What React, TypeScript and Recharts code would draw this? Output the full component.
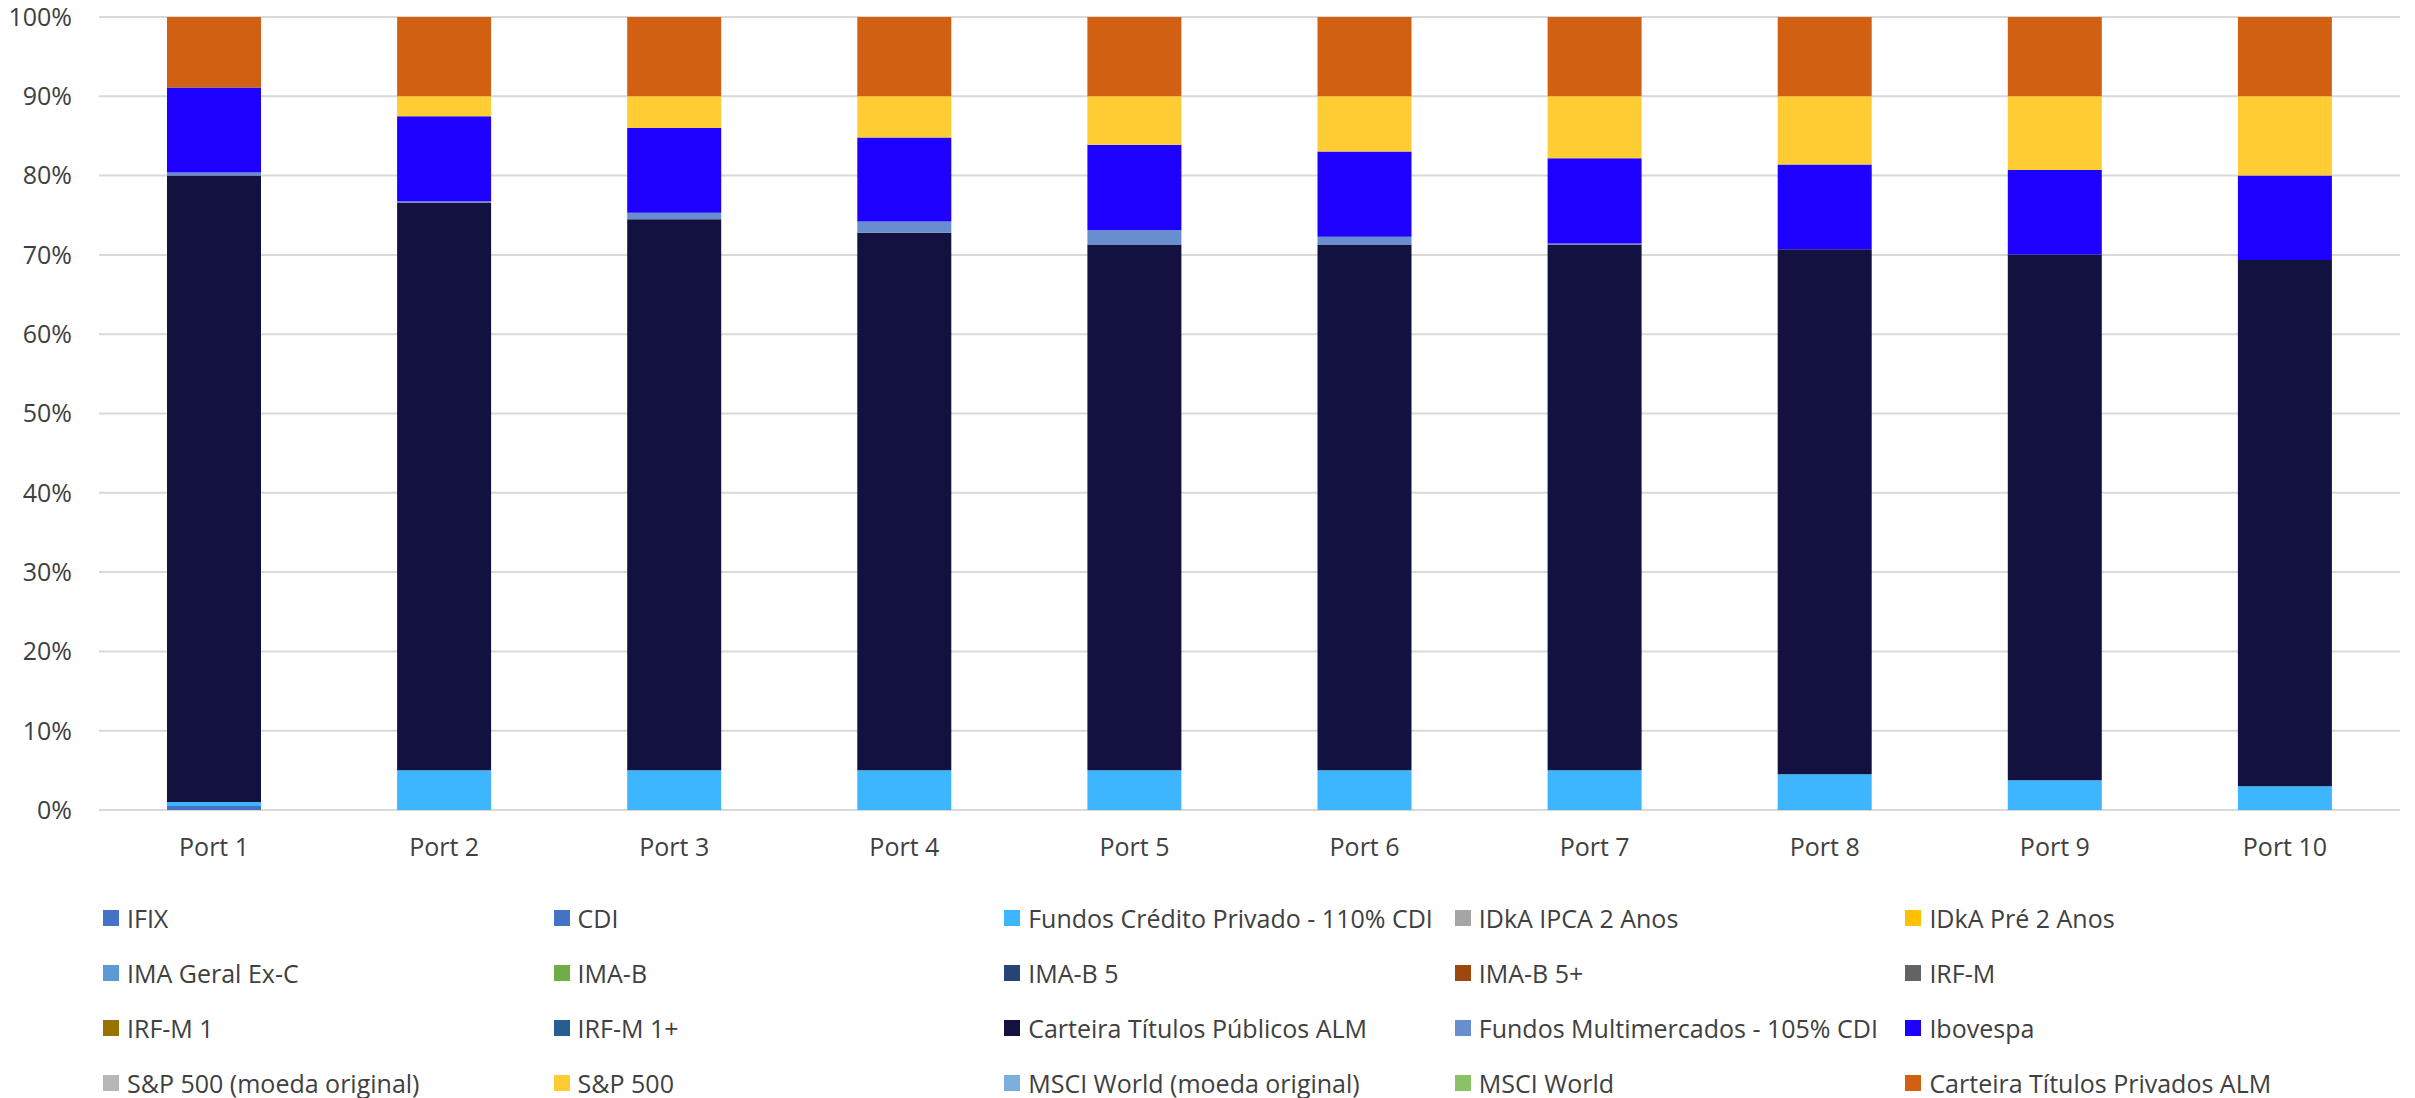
import React from 'react';
import { BarChart, Bar, XAxis, YAxis, CartesianGrid, Legend } from 'recharts';

const ports = ['Port 1', 'Port 2', 'Port 3', 'Port 4', 'Port 5', 'Port 6', 'Port 7', 'Port 8', 'Port 9', 'Port 10'];
const yTicks = [0, 10, 20, 30, 40, 50, 60, 70, 80, 90, 100];

// allocation per portfolio, in %, bottom of the stack first
const ifix = [0, 0, 0, 0, 0, 0, 0, 0, 0, 0];
const cdi = [0.5, 0, 0, 0, 0, 0, 0, 0, 0, 0];
const fundosCredito = [0.5, 5, 5, 5, 5, 5, 5, 4.5, 3.75, 3.0];
const idkaIpca = [0, 0, 0, 0, 0, 0, 0, 0, 0, 0];
const idkaPre = [0, 0, 0, 0, 0, 0, 0, 0, 0, 0];
const imaGeral = [0, 0, 0, 0, 0, 0, 0, 0, 0, 0];
const imaB = [0, 0, 0, 0, 0, 0, 0, 0, 0, 0];
const imaB5 = [0, 0, 0, 0, 0, 0, 0, 0, 0, 0];
const imaB5Plus = [0, 0, 0, 0, 0, 0, 0, 0, 0, 0];
const irfM = [0, 0, 0, 0, 0, 0, 0, 0, 0, 0];
const irfM1 = [0, 0, 0, 0, 0, 0, 0, 0, 0, 0];
const irfM1Plus = [0, 0, 0, 0, 0, 0, 0, 0, 0, 0];
const titulosPublicos = [79.0, 71.6, 69.5, 67.8, 66.3, 66.3, 66.3, 66.2, 66.3, 66.35];
const fundosMulti = [0.4, 0.15, 0.8, 1.4, 1.85, 1.0, 0.15, 0, 0, 0];
const ibovespa = [10.7, 10.75, 10.7, 10.6, 10.75, 10.75, 10.75, 10.7, 10.65, 10.65];
const spOriginal = [0, 0, 0, 0, 0, 0, 0, 0, 0, 0];
const sp500 = [0, 2.5, 4.0, 5.2, 6.1, 6.95, 7.8, 8.6, 9.3, 10];
const msciOriginal = [0, 0, 0, 0, 0, 0, 0, 0, 0, 0];
const msci = [0, 0, 0, 0, 0, 0, 0, 0, 0, 0];
const titulosPrivados = [8.9, 10, 10, 10, 10, 10, 10, 10, 10, 10];

const series = [
  { name: 'IFIX', color: '#4472C4', values: ifix },
  { name: 'CDI', color: '#4472C4', values: cdi },
  { name: 'Fundos Crédito Privado - 110% CDI', color: '#3DB5FF', values: fundosCredito },
  { name: 'IDkA IPCA 2 Anos', color: '#A5A5A5', values: idkaIpca },
  { name: 'IDkA Pré 2 Anos', color: '#FFC000', values: idkaPre },
  { name: 'IMA Geral Ex-C', color: '#5B9BD5', values: imaGeral },
  { name: 'IMA-B', color: '#70AD47', values: imaB },
  { name: 'IMA-B 5', color: '#264478', values: imaB5 },
  { name: 'IMA-B 5+', color: '#9E480E', values: imaB5Plus },
  { name: 'IRF-M', color: '#636363', values: irfM },
  { name: 'IRF-M 1', color: '#997300', values: irfM1 },
  { name: 'IRF-M 1+', color: '#255E91', values: irfM1Plus },
  { name: 'Carteira Títulos Públicos ALM', color: '#131140', values: titulosPublicos },
  { name: 'Fundos Multimercados - 105% CDI', color: '#698ED0', values: fundosMulti },
  { name: 'Ibovespa', color: '#1E00FF', values: ibovespa },
  { name: 'S&P 500 (moeda original)', color: '#B7B7B7', values: spOriginal },
  { name: 'S&P 500', color: '#FFCC33', values: sp500 },
  { name: 'MSCI World (moeda original)', color: '#7CAFDD', values: msciOriginal },
  { name: 'MSCI World', color: '#8CC168', values: msci },
  { name: 'Carteira Títulos Privados ALM', color: '#D26012', values: titulosPrivados },
];

const data = ports.map((port, i) => {
  const row: Record<string, string | number> = { port };
  series.forEach((s, j) => {
    row['s' + j] = s.values[i];
  });
  return row;
});

const textColor = '#404040';
const font = '"Open Sans", sans-serif';
const fontSize = 25;

const renderLegend = () => (
  <div style={{ display: 'flex', flexWrap: 'wrap', paddingLeft: 103, width: 2415, boxSizing: 'border-box' }}>
    {series.map((s) => (
      <div key={s.name} style={{ width: 450.6, height: 55, display: 'flex', alignItems: 'center' }}>
        <span style={{ width: 16, height: 16, background: s.color, marginRight: 8, flexShrink: 0 }} />
        <span style={{ fontSize, color: textColor, fontFamily: font, whiteSpace: 'nowrap' }}>{s.name}</span>
      </div>
    ))}
  </div>
);

export default function App() {
  return (
    <div style={{ position: 'absolute', left: 0, top: 0, background: '#fff', fontFamily: font }}>
      <BarChart width={2415} height={1098} data={data} margin={{ top: 17, right: 15, left: 0, bottom: 228 }}>
        <CartesianGrid vertical={false} stroke="#D9D9D9" strokeWidth={2} />
        <XAxis
          dataKey="port"
          height={60}
          interval={0}
          axisLine={false}
          tickLine={false}
          tickSize={0}
          tickMargin={28}
          tick={{ fontSize, fill: textColor, fontFamily: font }}
        />
        <YAxis
          width={99}
          domain={[0, 100]}
          ticks={yTicks}
          axisLine={false}
          tickLine={false}
          tickSize={0}
          tickMargin={27}
          tickFormatter={(v) => `${v}%`}
          tick={{ fontSize, fill: textColor, fontFamily: font }}
        />
        <Legend
          layout="horizontal"
          verticalAlign="middle"
          align="center"
          content={renderLegend}
          wrapperStyle={{ top: 890, left: 0, width: 2415 }}
        />
        {series.map((s, j) => (
          <Bar
            key={s.name}
            dataKey={'s' + j}
            name={s.name}
            stackId="a"
            fill={s.color}
            barSize={94}
            isAnimationActive={false}
          />
        ))}
      </BarChart>
    </div>
  );
}
